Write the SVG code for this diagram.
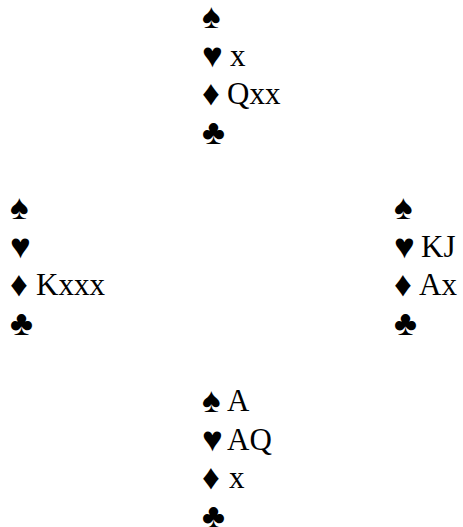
<svg xmlns="http://www.w3.org/2000/svg" width="463" height="527" viewBox="0 0 463 527">
<style>
text{font-family:"Liberation Serif","Times New Roman",serif;font-size:31px;fill:#000}
.s{font-size:35px}
</style>
<rect width="463" height="527" fill="#fff"/>
<g id="north">
<text y="27"><tspan class="s" x="202" dy="1">♠</tspan></text>
<text y="65.5"><tspan class="s" x="202" dy="1">♥</tspan><tspan x="230" dy="-1">x</tspan></text>
<text y="104"><tspan class="s" x="202" dy="1">♦</tspan><tspan x="227" dy="-1">Qxx</tspan></text>
<text y="142.5"><tspan class="s" x="202" dy="1">♣</tspan></text>
</g>
<g id="west">
<text y="218"><tspan class="s" x="10" dy="1">♠</tspan></text>
<text y="256.5"><tspan class="s" x="10" dy="1">♥</tspan></text>
<text y="295"><tspan class="s" x="10" dy="1">♦</tspan><tspan x="36" dy="-1">Kxxx</tspan></text>
<text y="333.5"><tspan class="s" x="10" dy="1">♣</tspan></text>
</g>
<g id="east">
<text y="218"><tspan class="s" x="394" dy="1">♠</tspan></text>
<text y="256.5"><tspan class="s" x="394" dy="1">♥</tspan><tspan x="421" dy="-1">KJ</tspan></text>
<text y="295"><tspan class="s" x="394" dy="1">♦</tspan><tspan x="419" dy="-1">Ax</tspan></text>
<text y="333.5"><tspan class="s" x="394" dy="1">♣</tspan></text>
</g>
<g id="south">
<text y="411"><tspan class="s" x="202" dy="1">♠</tspan><tspan x="227" dy="-1">A</tspan></text>
<text y="449.5"><tspan class="s" x="202" dy="1">♥</tspan><tspan x="227" dy="-1">AQ</tspan></text>
<text y="488"><tspan class="s" x="202" dy="1">♦</tspan><tspan x="229" dy="-1">x</tspan></text>
<text y="526.5"><tspan class="s" x="202" dy="1">♣</tspan></text>
</g>
</svg>
